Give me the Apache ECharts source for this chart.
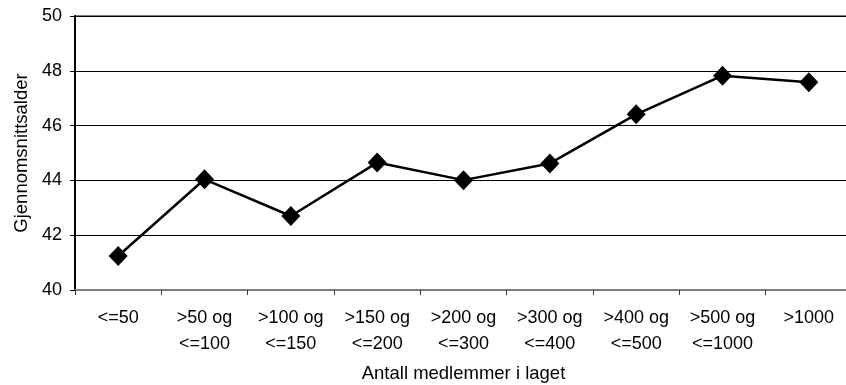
<!DOCTYPE html>
<html><head><meta charset="utf-8">
<script src="https://cdn.jsdelivr.net/npm/echarts@6/dist/echarts.min.js"></script>
<style>html,body{margin:0;padding:0;background:#fff}#c{width:846px;height:385px}</style>
</head><body><div id="c"></div>
<script>
const categories = ['<=50', '>50 og\n<=100', '>100 og\n<=150', '>150 og\n<=200', '>200 og\n<=300', '>300 og\n<=400', '>400 og\n<=500', '>500 og\n<=1000', '>1000'];
const values = [41.24, 44.04, 42.70, 44.65, 44.01, 44.62, 46.41, 47.82, 47.58];
const yTicks = { min: 40, max: 50, interval: 2 };
const font = '"Liberation Sans", Arial, sans-serif';
const chart = echarts.init(document.getElementById('c'), null, { renderer: 'canvas' });
chart.setOption({
  animation: false,
  grid: { left: 75, right: -6, top: 16, bottom: 95, show: true, borderColor: '#808080', borderWidth: 2, backgroundColor: 'transparent', containLabel: false, outerBoundsMode: 'none' },
  xAxis: {
    type: 'category', data: categories, boundaryGap: true,
    name: 'Antall medlemmer i laget', nameLocation: 'middle', nameGap: 74,
    nameTextStyle: { fontFamily: font, fontSize: 18.5, color: '#000' },
    axisLine: { lineStyle: { color: '#808080', width: 2 } },
    axisTick: { show: true, length: 5, lineStyle: { color: '#333', width: 1 }, alignWithLabel: false },
    axisLabel: { interval: 0, fontFamily: font, fontSize: 18, color: '#000', lineHeight: 26, margin: 15 },
  },
  yAxis: {
    type: 'value', min: yTicks.min, max: yTicks.max, interval: yTicks.interval,
    name: 'Gjennomsnittsalder', nameLocation: 'middle', nameGap: 44, nameRotate: 90,
    nameTextStyle: { fontFamily: font, fontSize: 18.5, color: '#000' },
    axisLine: { show: true, lineStyle: { color: '#000', width: 2 } },
    axisTick: { show: true, length: 5, lineStyle: { color: '#000' } },
    axisLabel: { fontFamily: font, fontSize: 18, color: '#000', margin: 13 },
    splitLine: { show: true, lineStyle: { color: '#000', width: 1 } }
  },
  series: [{
    type: 'line', data: values,
    symbol: 'diamond', symbolSize: [19, 20],
    itemStyle: { color: '#000' },
    lineStyle: { color: '#000', width: 2.5 }
  }]
});
</script></body></html>
